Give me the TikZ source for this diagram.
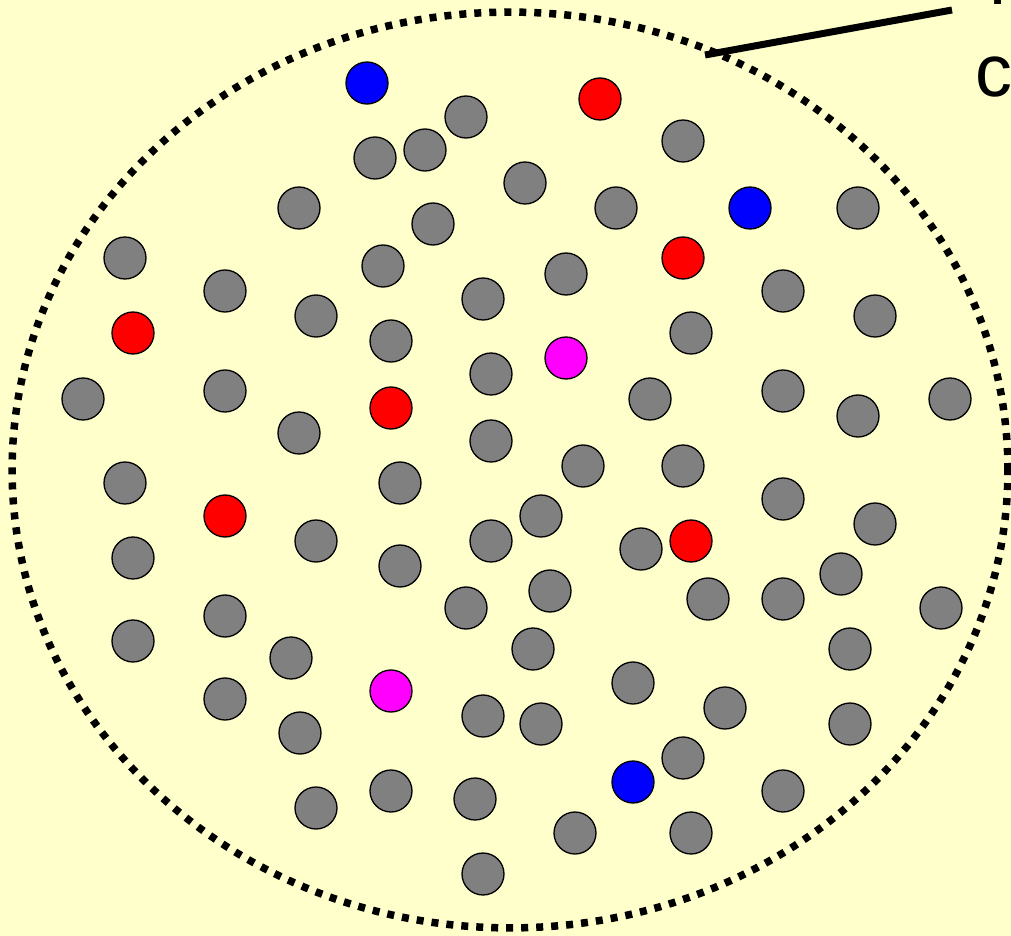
\documentclass[tikz,border=0pt]{standalone}
\usepackage{fontspec}
\newfontfamily\labelfont{Liberation Sans}
\usetikzlibrary{positioning}

\definecolor{paper}{HTML}{FFFFCC}
\definecolor{ballgray}{HTML}{808080}
\definecolor{ballpink}{HTML}{FF00FF}
\definecolor{ballred}{HTML}{FF0000}
\definecolor{ballblue}{HTML}{0000FF}

\tikzset{
  ball/.style={circle, draw=black, line width=0.75pt, inner sep=0pt, minimum size=0.84cm},
  grayball/.style={ball, fill=ballgray},
  redball/.style={ball, fill=ballred},
  blueball/.style={ball, fill=ballblue},
  pinkball/.style={ball, fill=ballpink},
  border/.style={line width=0.15cm, dash pattern=on 0.14cm off 0.16cm},
  pointer/.style={line width=0.14cm},
  caption/.style={font=\labelfont\fontsize{42}{52}\selectfont, inner sep=0pt, anchor=base west}
}

\begin{document}
\begin{tikzpicture}[x=0.02cm, y=-0.02cm]

% Background
\useasboundingbox (0,0) rectangle (1011,936);
\clip (0,0) rectangle (1011,936);
\fill[paper] (0,0) rectangle (1011,936);

% Boundary of the region
\draw[border] (510,470) ellipse [x radius=9.96cm, y radius=9.16cm];

% Pointer and (cut off) label
\coordinate (tail) at (705,55);
\coordinate (head) at (952,10);
\draw[pointer] (tail) -- (head);
\node[caption] (labelT) at (975,5) {T};
\node[caption] (labelc) at (975,97) {c};

% Gray particles
\foreach \x/\y [count=\i] in {466/117, 375/158, 425/150, 683/141, 525/183, 616/208,
  858/208, 299/208, 433/224, 125/258, 383/266, 566/274, 225/291, 483/299,
  783/291, 316/316, 875/316, 691/333, 391/341, 491/374, 83/399, 225/391,
  650/399, 783/391, 858/416, 950/399, 299/433, 491/441, 583/466, 683/466,
  125/483, 400/483, 541/516, 783/499, 875/524, 133/558, 316/541, 491/541,
  641/549, 400/566, 841/574, 550/591, 708/599, 783/599, 466/608, 941/608,
  225/616, 133/641, 533/649, 850/649, 291/658, 633/683, 225/699, 725/708,
  483/716, 541/724, 300/733, 850/724, 683/758, 316/808, 391/791, 475/799,
  783/791, 575/833, 691/833, 483/874}
  \node[grayball] (g\i) at (\x,\y) {};

% Red particles
\foreach \x/\y [count=\i] in {600/99, 133/333, 683/258, 391/408, 225/516, 691/541}
  \node[redball] (r\i) at (\x,\y) {};

% Blue particles
\foreach \x/\y [count=\i] in {367/83, 750/208, 633/782}
  \node[blueball] (b\i) at (\x,\y) {};

% Magenta particles
\node[pinkball] (m1) at (566,358) {};
\node[pinkball] (m2) at (391,691) {};

\end{tikzpicture}
\end{document}
